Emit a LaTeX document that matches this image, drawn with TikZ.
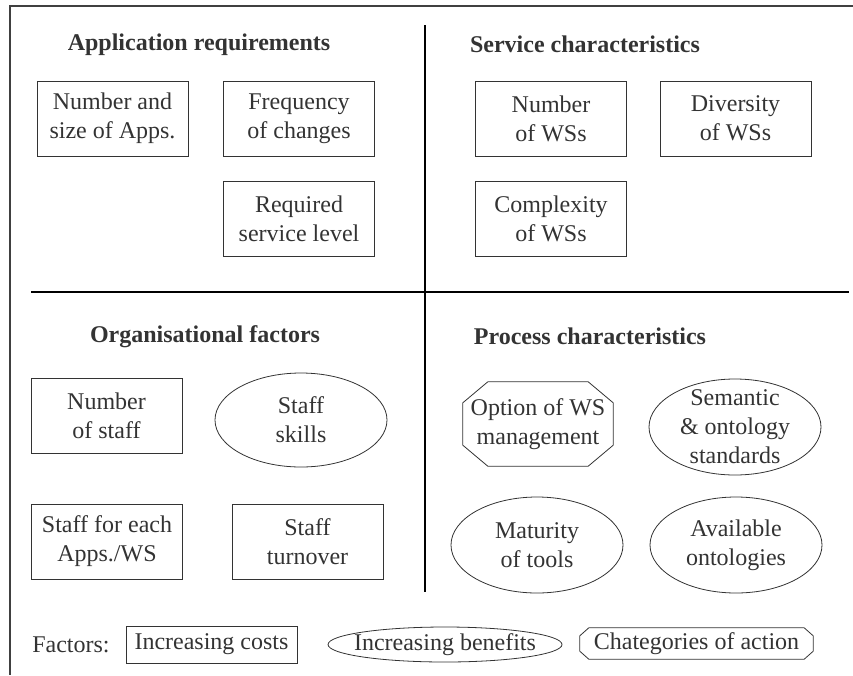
\documentclass[tikz,border=0pt]{standalone}
\usepackage{fontspec}
\setmainfont{Liberation Serif}

\begin{document}
\begin{tikzpicture}[x=1pt, y=-1pt,
    every node/.style={font=\fontsize{24}{29}\selectfont, text=black!80, align=center},
    head/.style={font=\fontsize{24}{29}\selectfont\bfseries},
    box/.style={draw=black!80, line width=0.8pt, rectangle, inner sep=0pt, minimum width=151, minimum height=75},
    rim/.style={draw=black!80, line width=0.8pt},
    bar/.style={draw=black, line width=2.5pt}]
  \useasboundingbox (0,0) rectangle (853,675);

  % frame and dividers
  \draw[black!75, line width=2pt] (853,6) -- (10,6) -- (10,675);
  \draw[bar] (425,25) -- (425,592);
  \draw[bar, line width=2pt] (31,292) -- (849,292);

  % application requirements
  \node[head] (t1) at (199,45) {Application requirements};
  \node[box] (a1) at (112.5,118.5) {Number and\\size of Apps.};
  \node[box] (a2) at (299,118.5) {Frequency\\of changes};
  \node[box] (a3) at (299,219) {Required\\service level};

  % service characteristics
  \node[head] (t2) at (585,44) {Service characteristics};
  \node[box] (s1) at (551,118.5) {Number\\of WSs};
  \node[box] (s2) at (735.5,118.5) {Diversity\\of WSs};
  \node[box] (s3) at (551,219) {Complexity\\of WSs};

  % organisational factors
  \node[head] (t3) at (205,337) {Organisational factors};
  \node[box] (k1) at (106.5,415.5) {Number\\of staff};
  \node (k2) at (301,420) {Staff\\skills};
  \draw[rim] (k2.center) ellipse [x radius=86, y radius=47];
  \node[box] (k3) at (107,541.5) {Staff for each\\Apps./WS};
  \node[box] (k4) at (307.5,541.5) {Staff\\turnover};

  % process characteristics
  \node[head] (t4) at (590,336) {Process characteristics};
  \node[inner sep=0pt, minimum width=150, minimum height=84] (p1) at (538,424) {Option of WS\\management};
  \draw[rim] ([xshift=25pt]p1.north west) -- ([xshift=-25pt]p1.north east)
    -- ([yshift=-21pt]p1.north east) -- ([yshift=21pt]p1.south east)
    -- ([xshift=-25pt]p1.south east) -- ([xshift=25pt]p1.south west)
    -- ([yshift=21pt]p1.south west) -- ([yshift=-21pt]p1.north west) -- cycle;
  \node (p2) at (735,427) {Semantic\\\& ontology\\standards};
  \draw[rim] (p2.center) ellipse [x radius=86, y radius=48];
  \node (p3) at (537,545) {Maturity\\of tools};
  \draw[rim] (p3.center) ellipse [x radius=86, y radius=48];
  \node (p4) at (736,545) {Available\\ontologies};
  \draw[rim] (p4.center) ellipse [x radius=86, y radius=48];

  % legend
  \node (f0) at (71,645) {Factors:};
  \node[box, minimum width=171, minimum height=37] (f1) at (211.5,644.5) {Increasing costs};
  \node (f2) at (445,644.5) {Increasing benefits};
  \draw[rim] (f2.center) ellipse [x radius=117, y radius=17.5];
  \node[inner sep=0pt, minimum width=233, minimum height=31] (f3) at (696.5,643.5) {Chategories of action};
  \draw[rim] ([xshift=9pt]f3.north west) -- ([xshift=-9pt]f3.north east)
    -- ([yshift=-8pt]f3.north east) -- ([yshift=8pt]f3.south east)
    -- ([xshift=-9pt]f3.south east) -- ([xshift=9pt]f3.south west)
    -- ([yshift=8pt]f3.south west) -- ([yshift=-8pt]f3.north west) -- cycle;
\end{tikzpicture}
\end{document}
